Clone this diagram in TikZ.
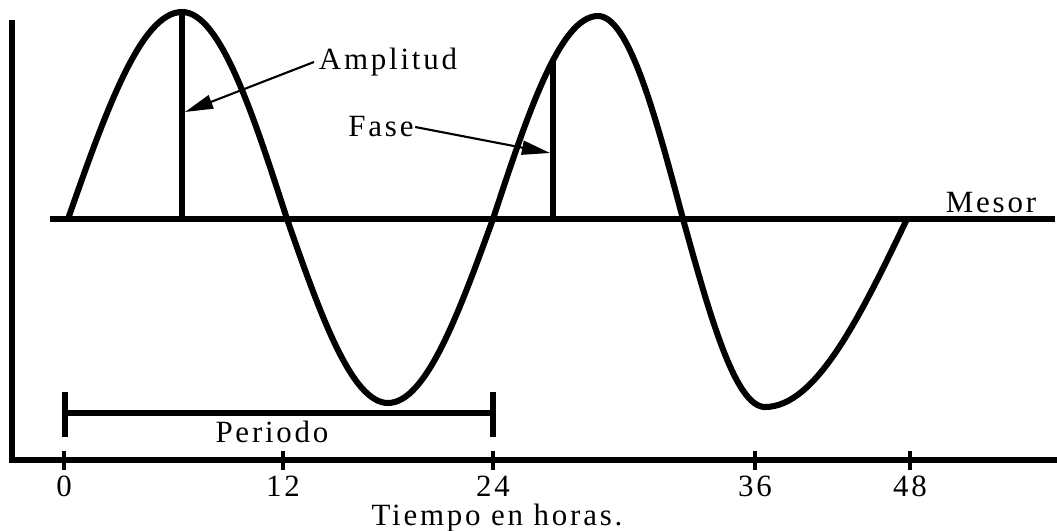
\documentclass[tikz,border=0pt]{standalone}
\usepackage{fontspec}
\setmainfont{Liberation Serif}
\newfontfamily\lblfont[LetterSpace=9]{Liberation Serif}
\usetikzlibrary{arrows.meta,positioning}

\begin{document}
\begin{tikzpicture}[x=0.025cm,y=-0.025cm,font=\lblfont\fontsize{22}{25}\selectfont,
  >={Triangle[length=20pt,width=10pt]},
  thickln/.style={line width=3.6pt},
  wave/.style={line width=4.3pt},
  pointer/.style={->,line width=1.5pt}]
  \useasboundingbox (0,0) rectangle (1057,531);
  % ejes
  \coordinate (yTop) at (12,20);
  \coordinate (orig) at (12,460);
  \coordinate (xEnd) at (1057,460);
  \draw[thickln] (yTop) -- (orig) -- (xEnd);
  \foreach \x/\h in {64/0,283/12,493/24,755/36,910/48}{
    \draw[line width=3pt] (\x,451) -- (\x,470);
    \node[inner sep=0pt] (t\h) at (\x,486) {\h};
  }
  \node[inner sep=0pt] (tiempo) at (497,518) {Tiempo en horas.};
  % mesor
  \coordinate (mesA) at (50,219);
  \coordinate (mesB) at (1055,219);
  \draw[thickln] (mesA) -- (mesB);
  \node (mesor) at (991,203) {Mesor};
  % onda
  \draw[wave] (68,219) sin (182,12) cos (287,219) sin (388,403) cos (493,219)
    sin (598,16) cos (683,219) sin (765,407) cos (907,219);
  % amplitud y fase
  \coordinate (ampTop) at (182,12);
  \coordinate (ampBot) at (182,219);
  \coordinate (ampTip) at (185,112);
  \coordinate (fasTop) at (553,61);
  \coordinate (fasBot) at (553,219);
  \coordinate (fasTip) at (550,153);
  \draw[thickln] (ampTop) -- (ampBot);
  \draw[thickln] (fasTop) -- (fasBot);
  \node (amp) at (388,62) {Amplitud};
  \node[inner sep=1pt] (fase) at (381,127) {Fase};
  \draw[pointer] (amp.west) -- (ampTip);
  \draw[pointer] (fase.east) -- (fasTip);
  % periodo
  \coordinate (perA) at (65,413);
  \coordinate (perB) at (493,413);
  \draw[thickln] (perA) -- (perB);
  \draw[thickln] ([yshift=15]perA) -- ([yshift=-17]perA);
  \draw[thickln] ([yshift=15]perB) -- ([yshift=-17]perB);
  \node (per) at (272,432) {Periodo};
\end{tikzpicture}
\end{document}
